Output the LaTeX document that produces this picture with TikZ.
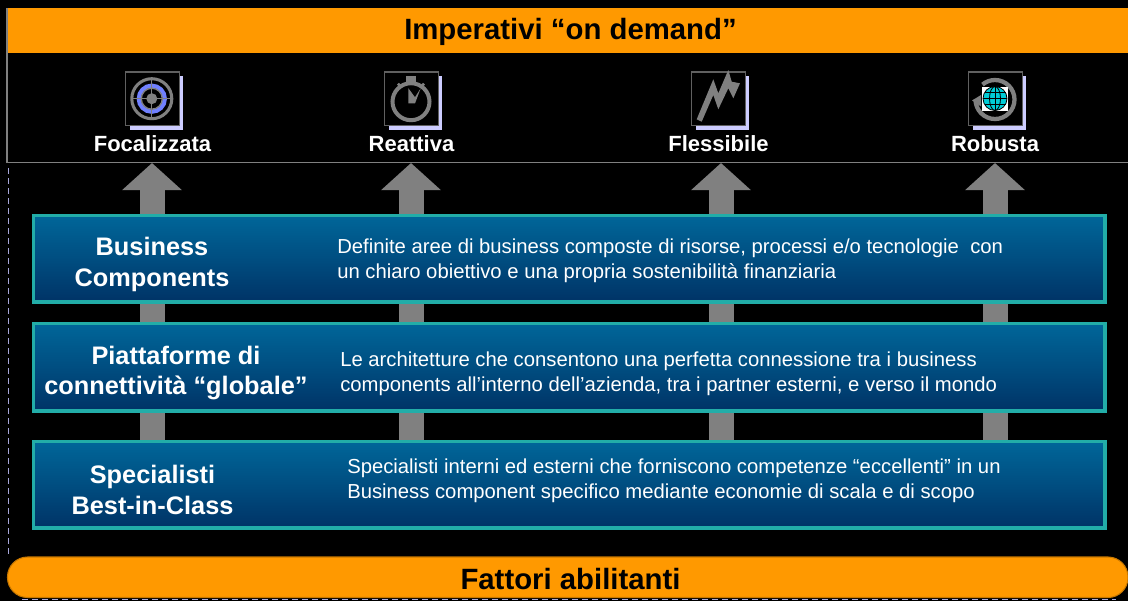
\documentclass[tikz,border=0pt]{standalone}
\usepackage{fontspec}
\setmainfont{Liberation Sans}
\usetikzlibrary{arrows.meta}
\definecolor{orng}{HTML}{FF9900}
\definecolor{orngdk}{HTML}{C87800}
\definecolor{teal1}{HTML}{22ADA8}
\definecolor{blueT}{HTML}{006699}
\definecolor{blueB}{HTML}{003366}
\definecolor{gry}{HTML}{808080}
\definecolor{lav}{HTML}{CCCCFF}
\definecolor{dash1}{HTML}{A8A8DC}
\tikzset{
  px/.style={x=0.75pt,y=-0.75pt},
  band/.style={fill=blueT},
  upflow/.style={draw=gry,line width=18.75pt,-{Triangle[width=43.5pt,length=20.25pt]}},
  panel/.style={draw=teal1,line width=2.6pt,top color=blueT,bottom color=blueB,middle color=blueT!52!blueB},
  headtxt/.style={text=white,font=\bfseries\fontsize{19}{23.2}\selectfont,align=center,inner sep=0pt},
  bodytxt/.style={text=white,font=\fontsize{15.2}{18.8}\selectfont,align=left,anchor=west,inner sep=0pt},
  lbl/.style={text=white,font=\bfseries\fontsize{16.5}{20}\selectfont,inner sep=0pt},
  bar/.style={text=black,font=\bfseries\fontsize{22}{26}\selectfont,inner sep=0pt},
  iconbox/.style={draw=gry!75!black,line width=0.8pt,fill=black},
  shadowbox/.style={fill=lav,draw=none},
  icongrey/.style={draw=gry,fill=none},
}
\begin{document}
\begin{tikzpicture}[px]
\useasboundingbox (0,0) rectangle (1128,601);
\fill[black] (0,0) rectangle (1128,601);
% dashed outer outline
\draw[dash1,line width=1.1pt,dash pattern=on 4.5pt off 3pt] (8.3,168) -- (8.3,556);
\draw[dash1,line width=1.1pt,dash pattern=on 4.5pt off 3pt] (22,599.6) -- (1116,599.6);
% top frame
\draw[gry,line width=1pt] (7,53) -- (7,162.3) -- (1128,162.3);
\fill[orng] (7,8) rectangle (1128,53);
\draw[gry,line width=1pt] (7,8) -- (7,53);
\node[bar] (title) at (570.5,32) {Imperativi “on demand”};
% arrows
\coordinate (a1b) at (152,445); \coordinate (a1t) at (152,163);
\coordinate (a2b) at (411,445); \coordinate (a2t) at (411,163);
\coordinate (a3b) at (721,445); \coordinate (a3t) at (721,163);
\coordinate (a4b) at (995,445); \coordinate (a4t) at (995,163);
\foreach \n in {1,2,3,4} \draw[upflow] (a\n b) -- (a\n t);
% panels
\path[panel] (33.5,215.5) rectangle (1105,302);
\path[panel] (33.5,323.5) rectangle (1105,411);
\path[panel] (33.5,441.5) rectangle (1105,528);
\node[headtxt] (h1) at (152,264) {Business\\Components};
\node[headtxt] (h2) at (176,373) {Piattaforme di\\connettività “globale”};
\node[headtxt] (h3) at (152.5,490) {Specialisti\\Best-in-Class};
\node[bodytxt] (b1) at (337,261) {Definite aree di business composte di risorse, processi e/o tecnologie\ \ con\\un chiaro obiettivo e una propria sostenibilità finanziaria};
\node[bodytxt] (b2) at (340,374) {Le architetture che consentono una perfetta connessione tra i business\\components all’interno dell’azienda, tra i partner esterni, e verso il mondo};
\node[bodytxt] (b3) at (347,481) {Specialisti interni ed esterni che forniscono competenze “eccellenti” in un\\Business component specifico mediante economie di scala e di scopo};
% bottom bar
\draw[orngdk,fill=orng,line width=0.8pt,rounded corners=15pt] (7.5,557) rectangle (1128,597.5);
\node[bar] (foot) at (570.5,579) {Fattori abilitanti};
% icon frames
\foreach \x/\yy in {125.5/72,384.5/72,691.5/72,968.5/72}{
  \fill[lav] (\x+4,\yy+4) rectangle (\x+57,\yy+58);
  \path[iconbox] (\x,\yy) rectangle (\x+54,\yy+53.5);
}
% icon 1 target
\begin{scope}[shift={(151.8,98.7)}]
  \draw[gry,line width=2.3pt] (0,0) circle (20);
  \draw[color={rgb,255:red,112;green,128;blue,255},line width=3.2pt] (0,0) circle (13);
  \draw[gry,line width=1pt] (0,0) circle (10.5);
  \draw[gry,line width=1pt] (-20,0) -- (20,0) (0,-20) -- (0,20);
  \fill[gry] (0,0) circle (5.5);
\end{scope}
% icon 2 stopwatch
\begin{scope}[shift={(411,101.7)}]
  \draw[gry,line width=3pt] (0,0) circle (18.5);
  \fill[gry] (-5,-26) rectangle (4.5,-18);
  \draw[gry,line width=2pt] (-13,-18) -- (-10,-15) (13,-18) -- (10,-15);
  \fill[gry] (-2.7,-13.5) -- (-2.7,1.7) -- (4,1.7) -- (9.7,-13.4) -- (4,-4.5) -- cycle;
\end{scope}
% icon 3 zigzag
\fill[gry] (696.7,119.3) -- (713.3,79.3) -- (718.3,93.3) -- (728.3,70) -- (731.7,81.7) -- (740,83.3) -- (733.3,98.3) -- (728.3,88.3) -- (718.3,109.3) -- (713.3,95) -- (701.7,121.7) -- cycle;
% icon 4 globe
\begin{scope}[shift={(995,98.5)}]
  \draw[gry,line width=3.2pt] (-19.5,1) arc (180:-130:19.5 and 19.5);
  \fill[gry] (-23,2) -- (-14,-3.5) -- (-14,8) -- cycle;
  \fill[white] (-13.3,-12) rectangle (13.3,12.3);
  \fill[color={rgb,255:red,0;green,205;blue,215}] (0,0) circle (12);
  \begin{scope}[black,line width=0.6pt]
    \draw (0,0) circle (12);
    \draw (0,0) ellipse (5.5 and 12);
    \draw (0,-12) -- (0,12) (-12,0) -- (12,0) (-10.5,-6) -- (10.5,-6) (-10.5,6) -- (10.5,6);
  \end{scope}
\end{scope}
% labels
\node[lbl] (l1) at (152.5,143.5) {Focalizzata};
\node[lbl] (l2) at (411.5,143.5) {Reattiva};
\node[lbl] (l3) at (718.5,143.5) {Flessibile};
\node[lbl] (l4) at (995,143.5) {Robusta};
\end{tikzpicture}
\end{document}
